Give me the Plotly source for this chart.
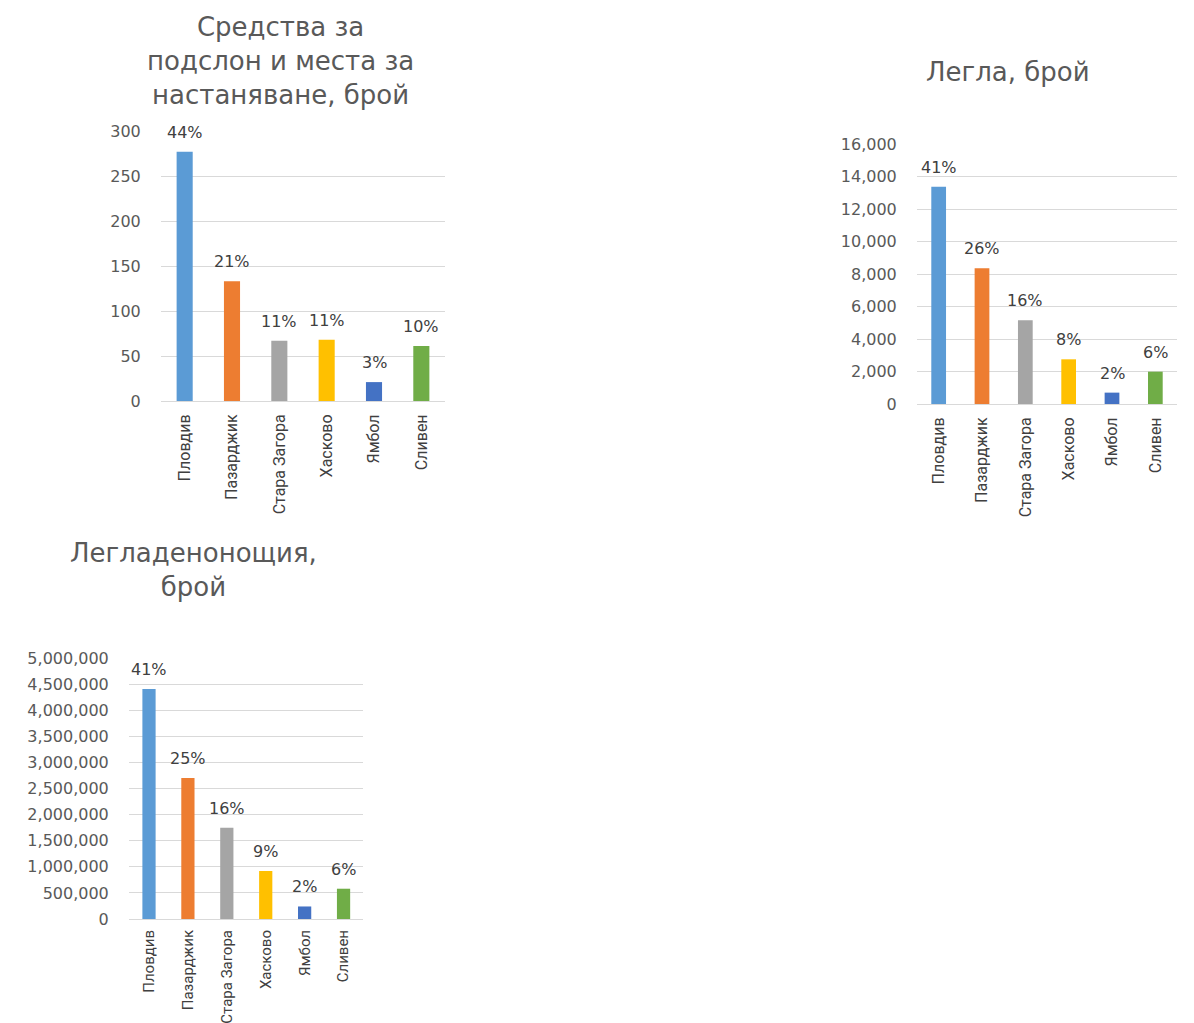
import plotly.graph_objects as go

W, H = 1194, 1023

regions = ["Пловдив", "Пазарджик", "Стара Загора", "Хасково", "Ямбол", "Сливен"]
colors = ["#5B9BD5", "#ED7D31", "#A5A5A5", "#FFC000", "#4472C4", "#70AD47"]

establishments = [277, 133, 67, 68, 21, 61]
establishments_pct = ["44%", "21%", "11%", "11%", "3%", "10%"]

beds = [13370, 8350, 5150, 2750, 700, 1990]
beds_pct = ["41%", "26%", "16%", "8%", "2%", "6%"]

nights = [4406000, 2700000, 1750000, 920000, 240000, 580000]
nights_pct = ["41%", "25%", "16%", "9%", "2%", "6%"]

title1 = "Средства за<br>подслон и места за<br>настаняване, брой"
title2 = "Легла, брой"
title3 = "Легладенонощия,<br>брой"

GRAY = "#595959"
DARK = "#404040"
GRID = "#D9D9D9"
TICK_FONT = dict(family="DejaVu Sans", size=16, color=GRAY)
PCT_FONT = dict(family="DejaVu Sans", size=16, color=DARK)
TITLE_FONT = dict(family="DejaVu Sans", size=26, color=GRAY)


def px_x(a, b):
    return [a / W, b / W]


def px_y(top, bottom):
    return [1 - bottom / H, 1 - top / H]


charts = [
    dict(vals=establishments, pct=establishments_pct, x=(161, 445), y=(131, 401),
         rng=[0, 300], dtick=50, fmt="", cat=16),
    dict(vals=beds, pct=beds_pct, x=(917, 1177), y=(144, 404),
         rng=[0, 16000], dtick=2000, fmt=",", cat=16),
    dict(vals=nights, pct=nights_pct, x=(129, 363), y=(658, 919),
         rng=[0, 5000000], dtick=500000, fmt=",", cat=15),
]

fig = go.Figure()
annotations = []
for i, c in enumerate(charts, start=1):
    xa = "x" if i == 1 else f"x{i}"
    ya = "y" if i == 1 else f"y{i}"
    fig.add_trace(go.Bar(
        x=regions, y=c["vals"], marker=dict(color=colors, line=dict(width=0)),
        xaxis=xa, yaxis=ya, showlegend=False, hoverinfo="x+y",
    ))
    for r, v, p in zip(regions, c["vals"], c["pct"]):
        annotations.append(dict(
            x=r, y=v, xref=xa, yref=ya, text=p, showarrow=False,
            yanchor="bottom", yshift=8, font=PCT_FONT,
        ))
    xkey = "xaxis" if i == 1 else f"xaxis{i}"
    ykey = "yaxis" if i == 1 else f"yaxis{i}"
    fig.update_layout({
        xkey: dict(
            domain=px_x(*c["x"]), anchor=ya, type="category",
            tickangle=-90,
            tickfont=dict(family="Roboto, Liberation Sans", size=c["cat"], color=DARK),
            showgrid=False, showline=True, linecolor=GRID, linewidth=1,
            ticks="outside", ticklen=6 if i < 3 else 4, tickcolor="rgba(0,0,0,0)",
            fixedrange=True, automargin=False,
        ),
        ykey: dict(
            domain=px_y(*c["y"]), anchor=xa, range=c["rng"], dtick=c["dtick"],
            tickformat=c["fmt"], tickfont=TICK_FONT, showgrid=True,
            gridcolor=GRID, gridwidth=1, zeroline=False, showline=False,
            ticks="outside", ticklen=16, tickcolor="rgba(0,0,0,0)",
            fixedrange=True, automargin=False,
        ),
    })

annotations += [
    dict(x=280 / W, y=1 - 61 / H, xref="paper", yref="paper", text=title1,
         showarrow=False, xanchor="center", yanchor="middle", font=TITLE_FONT),
    dict(x=1008 / W, y=1 - 72 / H, xref="paper", yref="paper", text=title2,
         showarrow=False, xanchor="center", yanchor="middle", font=TITLE_FONT),
    dict(x=193 / W, y=1 - 570 / H, xref="paper", yref="paper", text=title3,
         showarrow=False, xanchor="center", yanchor="middle", font=TITLE_FONT),
]

fig.update_layout(
    width=W, height=H, margin=dict(l=0, r=0, t=0, b=0, autoexpand=False),
    paper_bgcolor="white", plot_bgcolor="white",
    bargap=0.66, annotations=annotations,
)

fig.write_html("out.html")
